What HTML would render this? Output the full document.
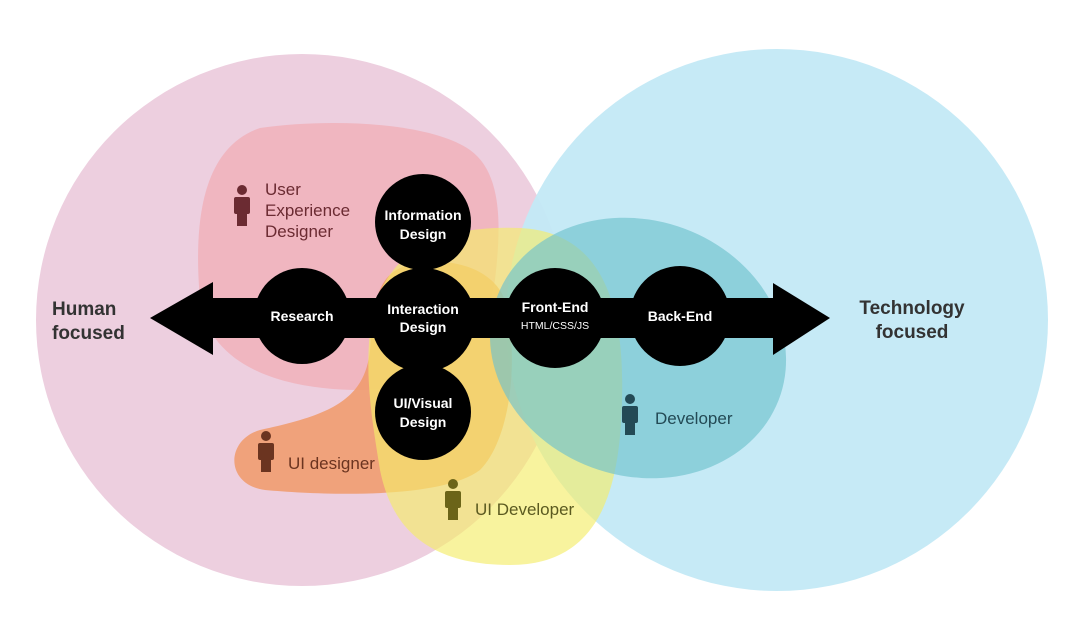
<!DOCTYPE html>
<html><head><style>body{margin:0;background:#fff}svg{display:block}text{font-family:"Liberation Sans",sans-serif}</style></head><body>
<svg width="1080" height="631" viewBox="0 0 1080 631">
<defs><g id="p"><circle cx="0" cy="-16" r="5"/><rect x="-8" y="-9" width="16" height="17" rx="2"/><rect x="-5" y="6" width="10" height="14"/></g></defs>
<rect width="1080" height="631" fill="#fff"/>
<circle cx="302" cy="320" r="266" fill="#edcfdf"/>
<circle cx="777" cy="320" r="271" fill="#c3e9f5" opacity="0.95"/>
<path d="M260 128 C330 118 430 122 470 150 C505 175 500 235 495 280 C480 360 440 390 360 390 C290 390 210 370 200 300 C195 240 195 150 260 128Z" fill="#efb3bd" opacity="0.9"/>
<path d="M400 268 C430 255 490 260 505 300 C520 360 510 440 480 470 C440 500 320 495 265 490 C225 485 225 440 260 430 C330 415 365 400 370 350 C373 310 375 280 400 268Z" fill="#f09a6a" opacity="0.85"/>
<path d="M370 330 C380 250 440 225 520 228 C600 232 625 300 622 400 C620 490 600 565 510 565 C420 565 390 520 380 470 C372 420 365 380 370 330Z" fill="#f4ec6a" opacity="0.65"/>
<ellipse cx="638" cy="348" rx="150" ry="128" transform="rotate(18 638 348)" fill="#6fc2cd" opacity="0.65"/>
<rect x="205" y="298" width="575" height="40" fill="#000"/>
<polygon points="150,318 213,282 213,355" fill="#000"/>
<polygon points="830,318 773,283 773,355" fill="#000"/>
<g fill="#000"><circle cx="302" cy="316" r="48"/><circle cx="423" cy="222" r="48"/><circle cx="423" cy="320" r="52"/><circle cx="423" cy="412" r="48"/><circle cx="555" cy="318" r="50"/><circle cx="680" cy="316" r="50"/></g>
<g fill="#fff" font-weight="bold" font-size="14" text-anchor="middle">
<text x="302" y="321">Research</text>
<text x="423" y="220">Information</text><text x="423" y="239">Design</text>
<text x="423" y="314">Interaction</text><text x="423" y="332">Design</text>
<text x="423" y="408">UI/Visual</text><text x="423" y="427">Design</text>
<text x="555" y="312">Front-End</text><text x="555" y="329" font-size="10.5" font-weight="normal">HTML/CSS/JS</text>
<text x="680" y="321">Back-End</text>
</g>
<g font-weight="bold" font-size="19" fill="#333">
<text x="52" y="315">Human</text><text x="52" y="339">focused</text>
<text x="912" y="314" text-anchor="middle">Technology</text><text x="912" y="338" text-anchor="middle">focused</text>
</g>
<g font-size="17">
<use href="#p" x="242" y="206" fill="#6b2b32"/>
<text fill="#6b2b32" x="265" y="195">User</text><text fill="#6b2b32" x="265" y="216">Experience</text><text fill="#6b2b32" x="265" y="237">Designer</text>
<use href="#p" x="266" y="452" fill="#6b3420"/><text fill="#6b3420" x="288" y="469">UI designer</text>
<use href="#p" x="453" y="500" fill="#6b6418"/><text fill="#5b5a20" x="475" y="515">UI Developer</text>
<use href="#p" x="630" y="415" fill="#234a55"/><text fill="#234a55" x="655" y="424">Developer</text>
</g>
</svg>
</body></html>
